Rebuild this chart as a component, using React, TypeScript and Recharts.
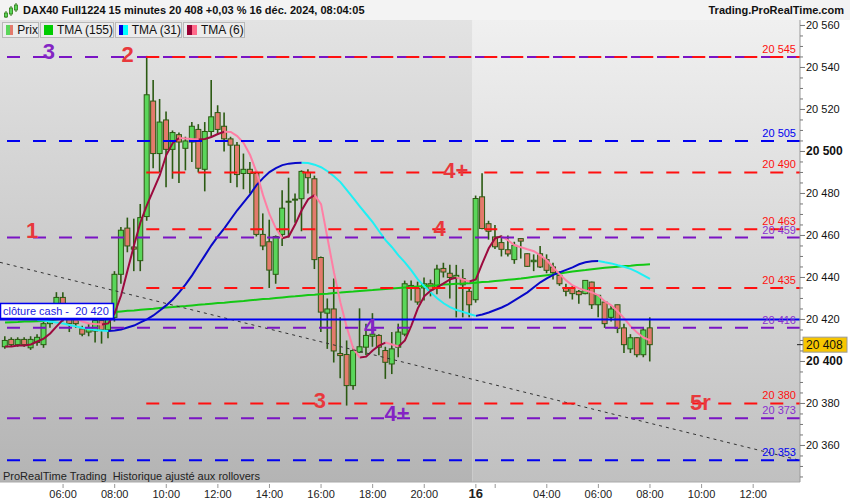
import React from 'react';
import {
  ComposedChart,
  Bar,
  Line,
  XAxis,
  YAxis,
  ReferenceLine,
  ReferenceArea,
  ReferenceDot,
} from 'recharts';

// 15 min bars, DAX40 Full1224, 15 Dec 03:45 -> 16 Dec 08:00 (bar index = position)
const opens = [
  20407, 20410.5, 20408, 20410.5, 20406.5, 20409, 20408, 20418, 20424, 20430.5,
  20422, 20420, 20415.5, 20414, 20414.5, 20419.5, 20415, 20421, 20441.5, 20463.5,
  20454.5, 20448, 20469, 20524, 20499, 20515, 20501, 20508, 20501.5, 20504.5,
  20510.5, 20491.5, 20509.5, 20518.5, 20512, 20506, 20503, 20489.5, 20491.5, 20489.5,
  20460.5, 20457, 20441.5, 20460.5, 20476, 20477, 20477.5, 20490, 20487, 20449.5,
  20423, 20425, 20403.8, 20403.3, 20388.5, 20404.4, 20406.8, 20412, 20412.4, 20405.2,
  20398.8, 20406.8, 20413, 20436.2, 20434.7, 20435, 20437, 20435, 20444.3, 20442,
  20439.5, 20439.5, 20433.4, 20429.4, 20478.4, 20465.6, 20459.3, 20456.6, 20453.2, 20448.5,
  20458.5, 20451.3, 20447.5, 20451.3, 20448.5, 20445, 20441, 20435, 20435, 20433.4,
  20432.3, 20437.8, 20427, 20428.3, 20421, 20427, 20416, 20406, 20411.3, 20403.2,
  20416,
];
const highs = [
  20412, 20411.5, 20411.5, 20411.5, 20412, 20413, 20420, 20427, 20433, 20433,
  20424, 20422, 20417, 20418, 20421, 20421, 20422, 20443, 20464, 20468.5,
  20468, 20475, 20545.5, 20534, 20525, 20519, 20510, 20509, 20507, 20514,
  20513, 20514, 20534, 20522, 20518.5, 20507, 20504.5, 20499, 20495, 20491,
  20470.5, 20467.5, 20460, 20481.5, 20487.5, 20480, 20491, 20491.5, 20488.5, 20450,
  20430, 20439.5, 20421, 20410, 20407, 20425.3, 20418, 20423, 20413, 20407,
  20414, 20418, 20438.5, 20438.5, 20438, 20440, 20439, 20446, 20447, 20446,
  20446, 20444, 20435, 20479, 20489.6, 20467, 20465, 20460, 20460, 20457,
  20458.5, 20451.5, 20451, 20455, 20451, 20447, 20443, 20437, 20436, 20434,
  20438.6, 20438, 20431.5, 20428.5, 20426.5, 20427, 20418, 20413, 20411.5, 20416,
  20421,
];
const lows = [
  20406, 20407, 20407, 20407, 20405.5, 20407.5, 20406.5, 20416, 20421, 20419,
  20414, 20416, 20412, 20412, 20409, 20408.5, 20411, 20419, 20437, 20452,
  20443, 20443, 20467, 20492, 20490, 20483, 20487, 20485, 20491, 20495,
  20490, 20481, 20507, 20508, 20500, 20485, 20483, 20482, 20480, 20459.5,
  20453, 20435, 20437, 20455, 20459, 20466, 20462, 20480, 20444, 20414,
  20406, 20399.5, 20392, 20379, 20386.5, 20404, 20403, 20407, 20403, 20391.7,
  20394, 20402, 20412, 20429, 20427, 20429, 20431, 20432, 20440, 20430,
  20421, 20421, 20421, 20428, 20463, 20458, 20453.5, 20450, 20450, 20446.5,
  20449, 20445, 20443, 20444.5, 20442, 20439, 20436, 20431, 20429.5, 20427.5,
  20432, 20425, 20421, 20416, 20419, 20413.5, 20404, 20404, 20402, 20402,
  20400,
];
const closes = [
  20410, 20408, 20410.5, 20408, 20410.5, 20411.5, 20418, 20425, 20430.5, 20422,
  20418, 20418, 20413, 20416, 20419.5, 20415, 20420, 20441.5, 20462.5, 20455,
  20453.5, 20468.5, 20527, 20499, 20514, 20501, 20509, 20504.5, 20505, 20512,
  20492, 20509.5, 20516.5, 20510.5, 20506, 20503, 20489, 20491.5, 20489.5, 20460.5,
  20455, 20443.5, 20459.5, 20473, 20476.3, 20477.3, 20490.5, 20487.5, 20448.5, 20423.5,
  20425, 20405, 20402.8, 20388.5, 20405.2, 20407, 20412.4, 20413, 20406.8, 20399.6,
  20406, 20414, 20437, 20435.1, 20428.3, 20437, 20434, 20444, 20442.6, 20440,
  20441, 20436.5, 20427, 20477.6, 20463.3, 20462, 20454.6, 20453.4, 20451.2, 20455.3,
  20457.3, 20445.3, 20448.2, 20445, 20443.4, 20442.3, 20437, 20433.4, 20432.3, 20431.8,
  20438.6, 20427, 20431.5, 20418, 20425, 20415.8, 20408, 20411.3, 20403.2, 20415,
  20408,
];

// TMA (155)
const tma155 = [
  20418.6, 20418.7, 20418.8, 20419.0, 20419.0, 20419.2, 20419.3, 20419.6, 20420.0, 20420.5,
  20421.0, 20421.4, 20421.8, 20422.2, 20422.6, 20422.9, 20423.2, 20423.5, 20423.8, 20424.1,
  20424.3, 20424.6, 20424.9, 20425.1, 20425.4, 20425.7, 20425.9, 20426.2, 20426.4, 20426.7,
  20427.0, 20427.2, 20427.5, 20427.8, 20428.0, 20428.3, 20428.6, 20428.8, 20429.1, 20429.4,
  20429.7, 20429.9, 20430.2, 20430.5, 20430.8, 20431.0, 20431.3, 20431.6, 20431.8, 20432.1,
  20432.3, 20432.6, 20432.8, 20433.1, 20433.3, 20433.6, 20433.8, 20434.0, 20434.3, 20434.5,
  20434.7, 20435.0, 20435.2, 20435.4, 20435.7, 20435.9, 20436.1, 20436.3, 20436.6, 20436.8,
  20437.0, 20437.1, 20437.3, 20437.5, 20437.8, 20438.0, 20438.3, 20438.6, 20438.9, 20439.2,
  20439.5, 20439.9, 20440.3, 20440.7, 20441.1, 20441.5, 20441.9, 20442.4, 20442.8, 20443.2,
  20443.5, 20443.9, 20444.3, 20444.6, 20444.9, 20445.1, 20445.4, 20445.6, 20445.9, 20446.1,
  20446.3,
];

// TMA (31)
const tma31 = [
  null, null, null, null, null, 20419.8, 20419.5, 20419.0, 20418.6, 20418.1,
  20417.4, 20416.7, 20415.9, 20415.5, 20415.0, 20414.7, 20414.5, 20414.7, 20415.2, 20416.2,
  20417.1, 20418.6, 20420.0, 20421.9, 20424.3, 20426.7, 20429.5, 20432.9, 20436.7, 20441.0,
  20445.8, 20450.5, 20455.3, 20459.6, 20463.4, 20467.7, 20472.0, 20475.8, 20479.6, 20484.0,
  20487.3, 20490.2, 20492.1, 20493.5, 20494.2, 20494.5, 20494.6, 20494.5, 20493.7, 20492.5,
  20490.6, 20488.2, 20485.4, 20481.6, 20477.8, 20473.9, 20470.1, 20466.3, 20462.0, 20457.8,
  20454.4, 20450.5, 20447.2, 20443.4, 20439.1, 20435.8, 20432.9, 20430.1, 20427.7, 20425.9,
  20424.5, 20423.6, 20422.6, 20421.7, 20422.4, 20423.3, 20424.5, 20425.7, 20427.2, 20429.1,
  20431.0, 20432.9, 20435.3, 20437.7, 20439.6, 20441.2, 20442.4, 20443.6, 20444.8, 20446.3,
  20447.2, 20447.7, 20447.8, 20447.2, 20446.7, 20445.8, 20445.1, 20444.1, 20442.7, 20441.0,
  20439.3,
];

// TMA (6)
const tma6 = [
  20407.1, 20407.1, 20407.6, 20407.6, 20408.1, 20409.5, 20410.9, 20413.3, 20416.7, 20420.0,
  20421.4, 20420.5, 20419.0, 20418.1, 20417.8, 20417.6, 20418.1, 20422.9, 20431.5, 20443.4,
  20455.3, 20466.3, 20474.4, 20481.6, 20488.7, 20498.3, 20504.0, 20506.4, 20506.2, 20505.9,
  20505.7, 20505.9, 20506.9, 20508.3, 20509.4, 20509.3, 20507.3, 20504.0, 20498.3, 20490.2,
  20479.2, 20470.1, 20463.4, 20458.7, 20459.6, 20465.3, 20472.0, 20477.3, 20479.2, 20474.9,
  20458.7, 20442.4, 20428.1, 20416.2, 20406.2, 20401.9, 20402.3, 20405.2, 20407.6, 20409.0,
  20408.1, 20407.1, 20410.0, 20417.1, 20425.3, 20431.0, 20433.8, 20435.3, 20437.2, 20439.1,
  20440.0, 20439.1, 20438.1, 20439.1, 20446.7, 20453.9, 20458.7, 20459.6, 20457.7, 20455.3,
  20454.4, 20453.4, 20452.5, 20450.5, 20448.2, 20444.8, 20441.5, 20438.6, 20436.2, 20434.8,
  20433.8, 20432.9, 20431.5, 20428.6, 20426.7, 20423.8, 20420.5, 20416.7, 20413.8, 20411.4,
  20410.0,
];

// time axis
const timeTicks = [9, 17, 25, 33, 41, 49, 57, 65, 73, 76, 84, 92, 100, 108, 116];
const timeLabels = ['06:00', '08:00', '10:00', '12:00', '14:00', '16:00', '18:00', '20:00', '16', '', '04:00', '06:00', '08:00', '10:00', '12:00'];
const sessionStart = 72.5; // first bar of 16 Dec

// price levels
const redLevels = [20545, 20490, 20463, 20435, 20380];
const purpleLevels = [20545, 20459, 20416, 20373];
const blueLevels = [20505, 20353];
const cashClose = 20420;
const lastPrice = 20408;
const redFrom = 21.9;

// dotted trend line
const trend = [
  { x: -0.78, y: 20447.2 },
  { x: 123.26, y: 20352.9 },
];

// wave labels
const waveMarks = [
  { text: '3', color: 'purple', bar: 6.8, price: 20547.8 },
  { text: '2', color: 'red', bar: 19, price: 20546.4 },
  { text: '1', color: 'red', bar: 4.2, price: 20462.5 },
  { text: '4', color: 'red', bar: 67.4, price: 20463.5 },
  { text: '4+', color: 'red', bar: 69.9, price: 20491 },
  { text: '4', color: 'purple', bar: 56.6, price: 20417 },
  { text: '3', color: 'red', bar: 48.8, price: 20381.5 },
  { text: '4+', color: 'purple', bar: 60.8, price: 20375.3 },
  { text: '5r', color: 'red', bar: 107.8, price: 20380.5 },
];

const X_DOMAIN = [-0.78, 123.26];
const Y_DOMAIN = [20342.6, 20562.6];

const FONT = '"Liberation Sans", Arial, sans-serif';
const WICK = '#2b5a12';
const UP = '#5ad65a';
const DOWN = '#e37a6c';
const RED = '#ff1010';
const PURPLE = '#7a14c4';
const BLUE = '#0000f0';
const MARK = { red: '#e8383c', purple: '#8424c4' } as Record<string, string>;

function splitBySlope(vals: (number | null)[]) {
  const up: (number | null)[] = vals.map(() => null);
  const down: (number | null)[] = vals.map(() => null);
  for (let k = 1; k < vals.length; k++) {
    const a = vals[k - 1];
    const b = vals[k];
    if (a == null || b == null) continue;
    const target = b >= a ? up : down;
    target[k - 1] = a;
    target[k] = b;
  }
  return { up, down };
}

const mid = splitBySlope(tma31);
const fast = splitBySlope(tma6);

const rows = opens.map((open, i) => ({
  i,
  open,
  high: highs[i],
  low: lows[i],
  close: closes[i],
  range: [lows[i], highs[i]],
  slow: tma155[i],
  midUp: mid.up[i],
  midDown: mid.down[i],
  fastUp: fast.up[i],
  fastDown: fast.down[i],
}));

const yTicks: number[] = [];
for (let v = 20345; v <= 20560; v += 5) yTicks.push(v);

const Candle = (props: any) => {
  const { x, y, width, height, payload } = props;
  if (x == null || !payload) return null;
  const top = Math.min(y, y + height);
  const h = Math.abs(height);
  const span = payload.high - payload.low || 1;
  const toY = (v: number) => top + ((payload.high - v) / span) * h;
  const rising = payload.close >= payload.open;
  const bTop = toY(Math.max(payload.open, payload.close));
  const bBot = toY(Math.min(payload.open, payload.close));
  const cx = x + width / 2;
  return (
    <g>
      <line x1={cx} x2={cx} y1={top} y2={top + h} stroke={WICK} strokeWidth={1.6} />
      <rect
        x={x + 0.5}
        y={bTop}
        width={width - 1}
        height={Math.max(bBot - bTop, 1)}
        fill={rising ? UP : DOWN}
        stroke={WICK}
        strokeWidth={1}
      />
    </g>
  );
};

const XTick = (props: any) => {
  const { x, y, payload } = props;
  const idx = timeTicks.indexOf(payload.value);
  const label = timeLabels[idx];
  return (
    <g>
      <line x1={x} x2={x} y1={y - 0} y2={y + 4} stroke="#999" />
      {label ? (
        <text
          x={x}
          y={y + 14}
          textAnchor="middle"
          fontSize={label === '16' ? 13 : 11}
          fontWeight={label === '16' ? 'bold' : 'normal'}
          fill="#222"
          fontFamily={FONT}
        >
          {label}
        </text>
      ) : null}
    </g>
  );
};

const YTick = (props: any) => {
  const { x, y, payload } = props;
  const v = payload.value;
  const major = v % 20 === 0;
  const bold = v === 20500 || v === 20400;
  const txt = String(v).replace(/^(\d{2})(\d{3})$/, '$1 $2');
  return (
    <g>
      <line x1={x} x2={x + (major ? 5 : 3)} y1={y} y2={y} stroke="#777" />
      {major ? (
        <text
          x={x + 6}
          y={y + 4}
          fontSize={bold ? 12 : 11}
          fontWeight={bold ? 'bold' : 'normal'}
          fill="#111"
          fontFamily={FONT}
        >
          {txt}
        </text>
      ) : null}
    </g>
  );
};

const fmt = (v: number) => String(v).replace(/^(\d{2})(\d{3})$/, '$1 $2');

const levelLabel = (v: number, color: string) => ({
  value: fmt(v),
  position: 'insideBottomRight' as const,
  offset: 4,
  fill: color,
  fontSize: 11,
  fontFamily: FONT,
});

const legendItems = [
  { label: 'Prix', a: UP, b: DOWN, w: 37 },
  { label: 'TMA (155)', a: '#00cc00', b: '#00cc00', w: 74 },
  { label: 'TMA (31)', a: '#0000dd', b: '#00ffff', w: 67 },
  { label: 'TMA (6)', a: '#990033', b: '#ff6a8a', w: 62 },
];

export default function App() {
  return (
    <div
      style={{
        position: 'absolute',
        left: 0,
        top: 0,
        width: 850,
        height: 500,
        background: '#fff',
        fontFamily: FONT,
        overflow: 'hidden',
      }}
    >
      <div style={{ position: 'absolute', left: 0, top: 0, width: 850, height: 20, background: '#f3f3f3' }} />
      <ComposedChart
        width={850}
        height={500}
        data={rows}
        margin={{ top: 20, right: 0, bottom: 0, left: 0 }}
        style={{ position: 'absolute', left: 0, top: 0 }}
      >
        <defs>
          <linearGradient id="bgPrev" x1="0" y1="0" x2="0" y2="1">
            <stop offset="0%" stopColor="#e3e3e3" />
            <stop offset="100%" stopColor="#b4b4b4" />
          </linearGradient>
          <linearGradient id="bgCur" x1="0" y1="0" x2="0" y2="1">
            <stop offset="0%" stopColor="#f0f0f0" />
            <stop offset="100%" stopColor="#c0c0c0" />
          </linearGradient>
        </defs>
        <XAxis
          type="number"
          dataKey="i"
          domain={X_DOMAIN}
          allowDataOverflow
          ticks={timeTicks}
          tick={<XTick />}
          tickLine={false}
          tickSize={0}
          axisLine={{ stroke: '#aaa' }}
          height={18}
          interval={0}
        />
        <YAxis
          orientation="right"
          type="number"
          domain={Y_DOMAIN}
          allowDataOverflow
          ticks={yTicks}
          tick={<YTick />}
          tickLine={false}
          tickSize={0}
          tickMargin={0}
          axisLine={{ stroke: '#999' }}
          width={50}
          interval={0}
        />
        <ReferenceArea x1={X_DOMAIN[0]} x2={sessionStart} y1={Y_DOMAIN[0]} y2={Y_DOMAIN[1]} fill="url(#bgPrev)" fillOpacity={1} stroke="none" />
        <ReferenceArea x1={sessionStart} x2={X_DOMAIN[1]} y1={Y_DOMAIN[0]} y2={Y_DOMAIN[1]} fill="url(#bgCur)" fillOpacity={1} stroke="none" />

        <Bar dataKey="range" barSize={6} shape={<Candle />} isAnimationActive={false} />

        <Line dataKey="slow" stroke="#14c814" strokeWidth={2} dot={false} isAnimationActive={false} type="linear" />
        <Line dataKey="midUp" stroke="#0808c8" strokeWidth={2} dot={false} isAnimationActive={false} type="linear" />
        <Line dataKey="midDown" stroke="#1ef0f4" strokeWidth={2} dot={false} isAnimationActive={false} type="linear" />
        <Line dataKey="fastUp" stroke="#9c0a3e" strokeWidth={2} dot={false} isAnimationActive={false} type="linear" />
        <Line dataKey="fastDown" stroke="#ff7ea4" strokeWidth={2} dot={false} isAnimationActive={false} type="linear" />

        <ReferenceLine segment={trend} stroke="#333" strokeWidth={1} strokeDasharray="3 4" />

        {purpleLevels.map((v) => (
          <ReferenceLine
            key={'p' + v}
            y={v}
            stroke={PURPLE}
            strokeWidth={2}
            strokeDasharray="13 13"
            label={v === 20545 ? undefined : levelLabel(v, '#8a2fd0')}
          />
        ))}
        {blueLevels.map((v) => (
          <ReferenceLine key={'b' + v} y={v} stroke={BLUE} strokeWidth={2} strokeDasharray="13 13" label={levelLabel(v, BLUE)} />
        ))}
        {redLevels.map((v) => (
          <ReferenceLine
            key={'r' + v}
            segment={[
              { x: redFrom, y: v },
              { x: X_DOMAIN[1], y: v },
            ]}
            stroke={RED}
            strokeWidth={2}
            strokeDasharray="13 13"
            label={levelLabel(v, RED)}
          />
        ))}
        <ReferenceLine y={cashClose} stroke={BLUE} strokeWidth={2} />

        {waveMarks.map((m, k) => (
          <ReferenceDot
            key={'m' + k}
            x={m.bar}
            y={m.price}
            r={0}
            ifOverflow="visible"
            shape={(p: any) => (
              <text
                x={p.cx}
                y={p.cy + 8}
                textAnchor="middle"
                fontSize={22}
                fontWeight="bold"
                fill={MARK[m.color]}
                fontFamily={FONT}
              >
                {m.text}
              </text>
            )}
          />
        ))}

        <ReferenceDot
          x={X_DOMAIN[0]}
          y={cashClose}
          r={0}
          ifOverflow="visible"
          shape={(p: any) => (
            <g>
              <rect x={p.cx + 0.5} y={p.cy - 16} width={113} height={15} fill="#fff" stroke={BLUE} strokeWidth={1.5} />
              <text x={p.cx + 3} y={p.cy - 4.5} fontSize={11} fill="#1a1ae0" fontFamily={FONT}>
                {'clôture cash -\u00a0 ' + fmt(cashClose)}
              </text>
            </g>
          )}
        />
        <ReferenceDot
          x={X_DOMAIN[1]}
          y={lastPrice}
          r={0}
          ifOverflow="visible"
          shape={(p: any) => (
            <g>
              <line x1={p.cx - 3} x2={p.cx + 3} y1={p.cy} y2={p.cy} stroke="#222" />
              <rect x={p.cx + 3} y={p.cy - 7.5} width={44} height={15} fill="#f7c600" stroke="#999" />
              <text x={p.cx + 6} y={p.cy + 4.5} fontSize={12} fill="#111" fontFamily={FONT}>
                {fmt(lastPrice)}
              </text>
            </g>
          )}
        />
      </ComposedChart>

      {/* header */}
      <svg width={16} height={16} style={{ position: 'absolute', left: 3, top: 3 }}>
        <line x1={3} x2={3} y1={8} y2={15} stroke="#2b7a12" />
        <rect x={1.5} y={10} width={3} height={4} fill="#5ad65a" stroke="#2b7a12" strokeWidth={0.8} />
        <line x1={8} x2={8} y1={3} y2={13} stroke="#2b7a12" />
        <rect x={6.5} y={5} width={3} height={6} fill="#5ad65a" stroke="#2b7a12" strokeWidth={0.8} />
        <line x1={13} x2={13} y1={0} y2={9} stroke="#2b7a12" />
        <rect x={11.5} y={2} width={3} height={5} fill="#5ad65a" stroke="#2b7a12" strokeWidth={0.8} />
      </svg>
      <div style={{ position: 'absolute', left: 23, top: 4, fontSize: 11, fontWeight: 'bold', color: '#111', whiteSpace: 'nowrap' }}>
        DAX40 Full1224 15 minutes 20 408 +0,03 % 16 déc. 2024, 08:04:05
      </div>
      <div style={{ position: 'absolute', right: 6, top: 4, fontSize: 11, fontWeight: 'bold', color: '#111' }}>
        Trading.ProRealTime.com
      </div>

      {/* series legend */}
      <div style={{ position: 'absolute', left: 2, top: 22, display: 'flex', gap: 1 }}>
        {legendItems.map((it) => (
          <div
            key={it.label}
            style={{
              width: it.w,
              height: 16,
              boxSizing: 'border-box',
              border: '1px solid #b8b8b8',
              background: '#ececec',
              display: 'flex',
              alignItems: 'center',
              paddingLeft: 3,
              fontSize: 12,
              color: '#111',
              whiteSpace: 'nowrap',
            }}
          >
            <span style={{ display: 'inline-block', width: 5, height: 10, background: it.a }} />
            <span style={{ display: 'inline-block', width: 5, height: 10, background: it.b, marginRight: 4 }} />
            {it.label}
          </div>
        ))}
      </div>

      <div style={{ position: 'absolute', left: 3, top: 470, fontSize: 11, color: '#222', whiteSpace: 'nowrap' }}>
        ProRealTime Trading&nbsp; Historique ajusté aux rollovers
      </div>
    </div>
  );
}
